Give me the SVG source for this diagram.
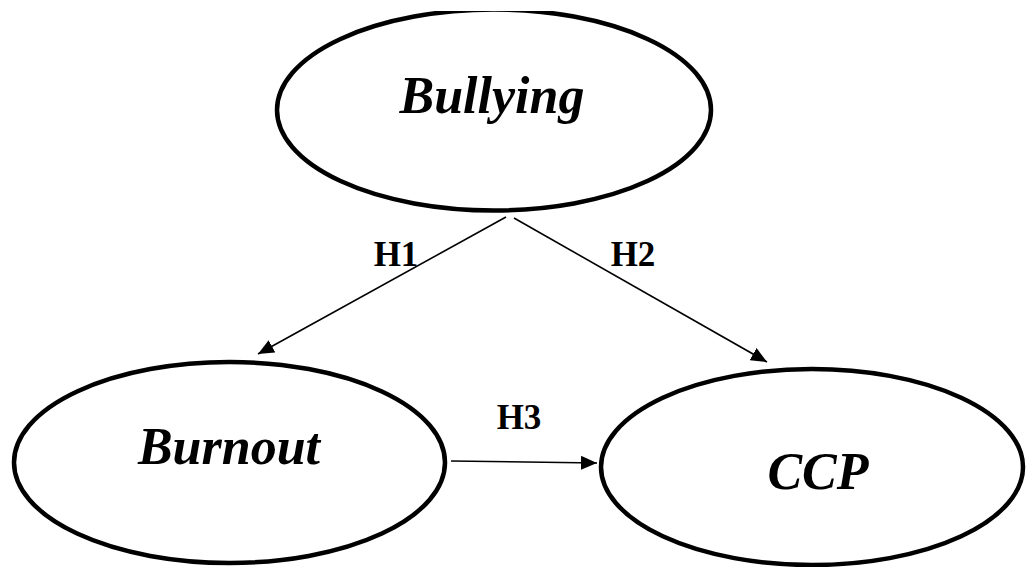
<svg xmlns="http://www.w3.org/2000/svg" width="1026" height="567" viewBox="0 0 1026 567">
  <style>
    .node { fill: #ffffff; stroke: #000000; stroke-width: 4.5; }
    .label { font-family: "Liberation Serif", "Times New Roman", serif; font-weight: bold; font-style: italic; font-size: 52px; fill: #000000; text-anchor: middle; }
    .hyp { font-family: "Liberation Serif", "Times New Roman", serif; font-weight: bold; font-size: 35px; fill: #000000; text-anchor: middle; }
    .edge { fill: none; stroke: #000000; stroke-width: 1.6; }
  </style>
  <defs>
    <marker id="arrow" viewBox="0 0 16 14" refX="16" refY="7" markerWidth="16" markerHeight="14" markerUnits="userSpaceOnUse" orient="auto">
      <path d="M0,0 L16,7 L0,14 Z" fill="#000000"/>
    </marker>
    <clipPath id="page">
      <rect x="0" y="11" width="1026" height="556"/>
    </clipPath>
  </defs>
  <rect width="1026" height="567" fill="#ffffff"/>

  <g id="bullying" clip-path="url(#page)">
    <ellipse class="node" cx="494" cy="110" rx="217" ry="100.5"/>
    <text class="label" x="492" y="113">Bullying</text>
  </g>

  <g id="burnout">
    <ellipse class="node" cx="229.5" cy="462.5" rx="215.5" ry="100.5"/>
    <text class="label" x="229" y="464">Burnout</text>
  </g>

  <g id="ccp">
    <ellipse class="node" cx="812" cy="467" rx="211" ry="98"/>
    <text class="label" x="818" y="489">CCP</text>
  </g>

  <g id="connectors">
    <path class="edge" d="M506,217 L258,354" marker-end="url(#arrow)"/>
    <path class="edge" d="M514,218 L767,362" marker-end="url(#arrow)"/>
    <path class="edge" d="M451,461 L597,463" marker-end="url(#arrow)"/>
    <text class="hyp" x="396" y="266">H1</text>
    <text class="hyp" x="633" y="266">H2</text>
    <text class="hyp" x="519" y="429">H3</text>
  </g>
</svg>
